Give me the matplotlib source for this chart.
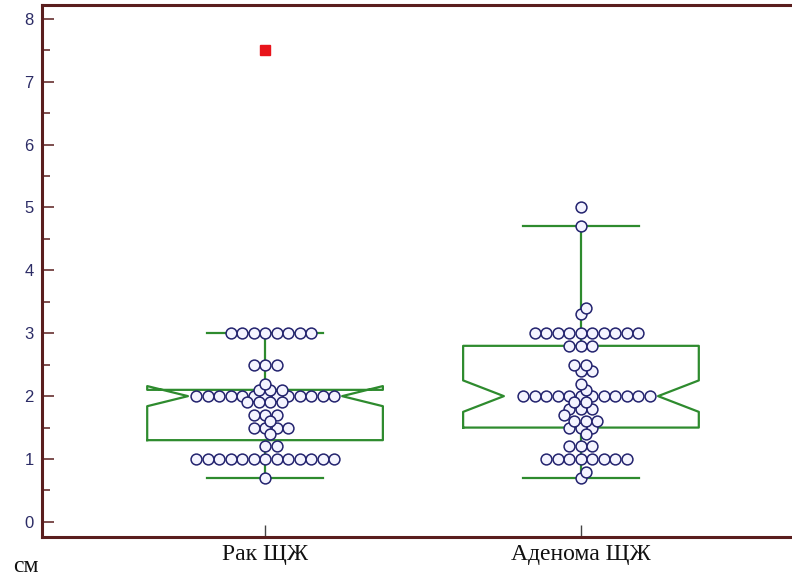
import numpy as np
from matplotlib import pyplot as plt
from matplotlib.ticker import MultipleLocator

# values (cm), one entry per distinct value + how many dots
groups = ["Рак ЩЖ", "Аденома ЩЖ"]

rak_vals = [0.7, 1.0, 1.2, 1.4, 1.5, 1.6, 1.7, 1.9, 2.0, 2.1, 2.2, 2.5, 3.0]
rak_counts = [1, 13, 2, 1, 4, 1, 3, 4, 13, 3, 1, 3, 8]
rak_outlier = [7.5]

aden_vals = [0.7, 0.8, 1.0, 1.2, 1.4, 1.5, 1.6, 1.7, 1.8, 1.9, 2.0, 2.1, 2.2, 2.4, 2.5, 2.8, 3.0, 3.3, 3.4, 4.7, 5.0]
aden_counts = [1, 1, 8, 3, 1, 3, 3, 1, 3, 2, 12, 1, 1, 2, 2, 3, 10, 1, 1, 1, 1]
aden_outlier = []

# box stats: whisker low, Q1, notch low, median, notch high, Q3, whisker high
box_stats = [
    [0.7, 1.3, 1.84, 2.0, 2.16, 2.1, 3.0],
    [0.7, 1.5, 1.75, 2.0, 2.25, 2.8, 4.7],
]

box_green = "#2e8b2e"
frame_col = "#5a1e1e"
dot_edge = "#23236e"
dot_face = "#f4f4ff"

W, H = 792, 576
fig = plt.figure(figsize=(W/100, H/100), dpi=100)
ax_l, ax_b, ax_w, ax_h = 42/W, 39/H, 750/W, 532/H
ax = fig.add_axes([ax_l, ax_b, ax_w, ax_h])
xlim = (0.294, 2.668)
ylim = (-0.24, 8.22)
ax.set_xlim(xlim)
ax.set_ylim(ylim)

xpx = ax_w*W/(xlim[1]-xlim[0])
ypx = ax_h*H/(ylim[1]-ylim[0])


def swarm(vals, counts, center, dx0=11.3, dy0=7.0):
    # greedy beeswarm in pixel space, biggest rows first
    order = sorted(zip(vals, counts), key=lambda t: (-t[1], t[0]))
    pts = []
    for v, c in order:
        for _ in range(c):
            y = v*ypx
            k = 0
            while True:
                off = ((k+1)//2)*0.5*(1 if k % 2 else -1)
                ok = True
                for px, py in pts:
                    if ((off-px)/dx0)**2 + ((y-py)/dy0)**2 < 1:
                        ok = False
                        break
                if ok:
                    pts.append((off, y))
                    break
                k += 1
    xs = np.array([center + p[0]/xpx for p in pts])
    ys = np.array([p[1]/ypx for p in pts])
    return xs, ys


def notched_box(pos, st):
    wlo, q1, clo, med, chi, q3, whi = st
    hw, nw, cw = 0.373, 0.244, 0.184
    bx = [pos-hw, pos+hw, pos+hw, pos+nw, pos+hw, pos+hw, pos-hw, pos-hw, pos-nw, pos-hw, pos-hw]
    by = [q1, q1, clo, med, chi, q3, q3, chi, med, clo, q1]
    ax.plot(bx, by, color=box_green, lw=1.6, zorder=2)
    top = max(q3, chi)
    ax.plot([pos, pos], [top, whi], color=box_green, lw=1.6, zorder=2)
    ax.plot([pos, pos], [wlo, q1], color=box_green, lw=1.6, zorder=2)
    ax.plot([pos-cw, pos+cw], [whi, whi], color=box_green, lw=1.6, zorder=2)
    ax.plot([pos-cw, pos+cw], [wlo, wlo], color=box_green, lw=1.6, zorder=2)


data = [(rak_vals, rak_counts, rak_outlier), (aden_vals, aden_counts, aden_outlier)]
for i, (vals, counts, outl) in enumerate(data):
    pos = i + 1
    notched_box(pos, box_stats[i])
    xs, ys = swarm(vals, counts, pos)
    ax.plot(xs, ys, "o", ms=7.8, mfc=dot_face, mec=dot_edge, mew=1.1, zorder=3)
    if outl:
        ax.plot([pos]*len(outl), outl, "s", ms=7.5, color="#e8141b", zorder=3)

ax.set_xticks([1, 2])
ax.set_xticklabels(groups, family="Liberation Serif", fontsize=17, color="#111111")
ax.yaxis.set_major_locator(MultipleLocator(1))
ax.yaxis.set_minor_locator(MultipleLocator(0.5))
ax.tick_params(axis="y", which="major", direction="in", length=8.5, width=1.1, color=frame_col,
               labelsize=12, labelcolor="#2c2c66", pad=6)
ax.tick_params(axis="y", which="minor", direction="in", length=5.5, width=1.1, color=frame_col)
ax.tick_params(axis="x", direction="in", length=9, width=1.0, color="#444444", pad=5)
for lab in ax.get_yticklabels():
    lab.set_family("Liberation Sans")

for s in ["left", "bottom", "top"]:
    ax.spines[s].set_color(frame_col)
    ax.spines[s].set_linewidth(2.2)
ax.spines["right"].set_visible(False)

fig.text(26/W, 1-566/H, "см", family="Liberation Serif", fontsize=17, ha="center", va="center", color="#111111")

plt.savefig("out.png", dpi=100)
